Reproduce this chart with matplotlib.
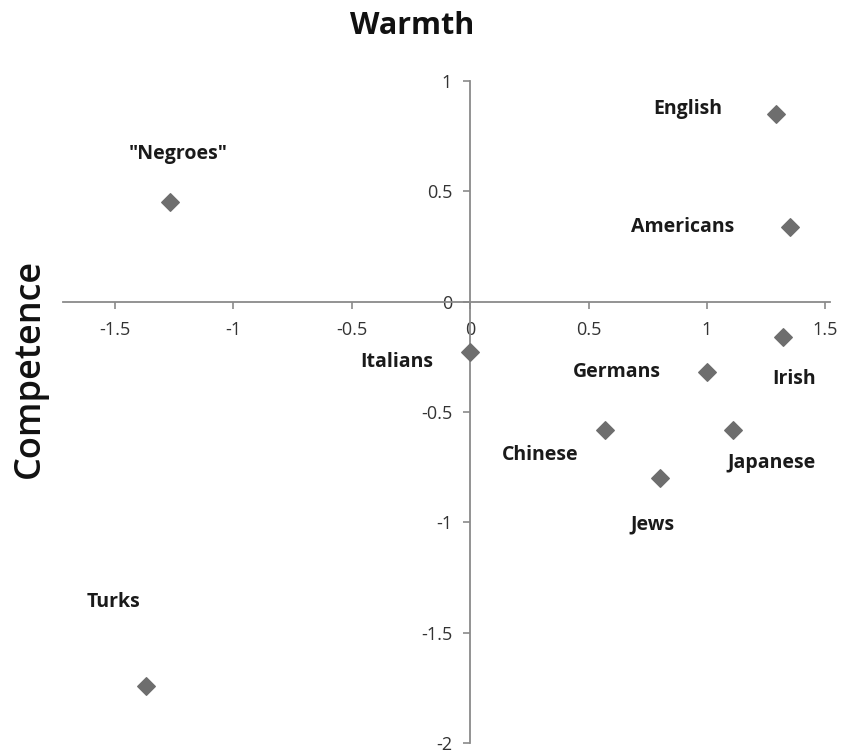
import matplotlib
matplotlib.use("Agg")
import matplotlib.pyplot as plt

plt.rcParams['font.family'] = ['Open Sans', 'DejaVu Sans']

groups = ['"Negroes"', 'English', 'Americans', 'Irish', 'Germans',
          'Japanese', 'Chinese', 'Jews', 'Italians', 'Turks']
warmth = [-1.27, 1.29, 1.35, 1.32, 1.00, 1.11, 0.57, 0.80, 0.00, -1.37]
competence = [0.45, 0.85, 0.34, -0.16, -0.32, -0.58, -0.58, -0.80, -0.23, -1.74]
x_ticks = [-1.5, -1, -0.5, 0, 0.5, 1, 1.5]
y_ticks = [-2, -1.5, -1, -0.5, 0, 0.5, 1]

# label offsets from each marker, in points
offsets = {
    '"Negroes"': (6, 35), 'English': (-63, 4), 'Americans': (-77, 0),
    'Irish': (8, -30), 'Germans': (-65, 0), 'Japanese': (28, -24),
    'Chinese': (-47, -18), 'Jews': (-5, -33), 'Italians': (-53, -7),
    'Turks': (-23, 60),
}

fig = plt.figure(figsize=(8.44, 7.55), dpi=100)
W, H = 844, 755
ax = fig.add_axes([63 / W, 12 / H, (830 - 63) / W, (743 - 81) / H])
ax.set_xlim(-1.72, 1.52)
ax.set_ylim(-2, 1)

ax.scatter(warmth, competence, marker='D', s=80, color='#6e6e6e', zorder=3)

for name, x, y in zip(groups, warmth, competence):
    ax.annotate(name, (x, y), xytext=offsets[name], textcoords='offset points',
                ha='center', va='center', fontsize=14, fontweight='bold',
                color='#1a1a1a')

for side in ['top', 'right']:
    ax.spines[side].set_visible(False)
ax.spines['left'].set_position(('data', 0))
ax.spines['bottom'].set_position(('data', 0))
for side in ['left', 'bottom']:
    ax.spines[side].set_color('#8a8a8a')
    ax.spines[side].set_linewidth(1.3)

ax.set_xticks(x_ticks)
ax.set_yticks(y_ticks)
ax.set_xticklabels([f'{t:g}' for t in x_ticks])
ax.set_yticklabels([f'{t:g}' for t in y_ticks])
ax.tick_params(axis='both', direction='out', length=5, width=1.2,
               color='#8a8a8a', labelcolor='#333333', labelsize=13)
ax.tick_params(axis='x', pad=9)
ax.tick_params(axis='y', pad=8)

fig.text(412 / W, 1 - 26 / H, 'Warmth', ha='center', va='center',
         fontsize=22, fontweight='bold', color='#111111')
fig.text(30 / W, 1 - 368 / H, 'Competence', ha='center', va='center',
         rotation=90, fontsize=26, fontweight='semibold', color='#111111')

fig.savefig('out.png', dpi=100)
